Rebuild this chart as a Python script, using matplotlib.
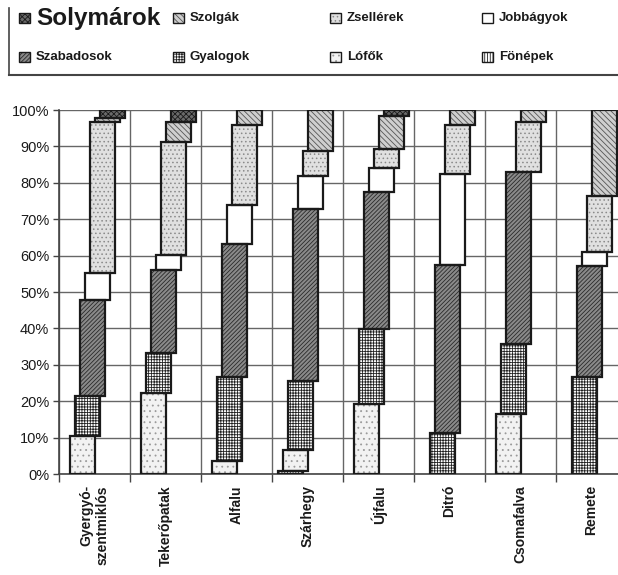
import numpy as np
import matplotlib
matplotlib.use("Agg")
import matplotlib.pyplot as plt
from matplotlib.patches import Rectangle
from matplotlib.lines import Line2D

plt.rcParams["font.family"] = ["Liberation Sans", "DejaVu Sans"]
plt.rcParams["hatch.linewidth"] = 0.6

# settlements (x categories)
categories = ["Gyergyó-\nszentmiklós", "Tekerőpatak", "Alfalu", "Szárhegy",
              "Újfalu", "Ditró", "Csomafalva", "Remete"]

# share of each social group in %, stacked from the bottom
fonepek = [0, 0, 0, 0.8, 0, 0, 0, 0]
lofok = [10.5, 22.3, 3.7, 5.8, 19.2, 0, 16.4, 0]
gyalogok = [10.9, 10.9, 23.0, 18.9, 20.7, 11.2, 19.3, 26.6]
szabadosok = [26.4, 22.8, 36.5, 47.2, 37.7, 46.2, 47.4, 30.6]
jobbagyok = [7.5, 4.2, 10.7, 9.2, 6.6, 25.0, 0, 3.9]
zsellerek = [41.3, 30.9, 22.1, 6.7, 5.0, 13.5, 13.7, 15.3]
szolgak = [1.2, 5.5, 4.0, 11.4, 9.2, 4.1, 3.2, 23.6]
solymarok = [2.2, 3.4, 0, 0, 1.6, 0, 0, 0]

series = [("Fönépek", fonepek), ("Lófők", lofok), ("Gyalogok", gyalogok),
          ("Szabadosok", szabadosok), ("Jobbágyok", jobbagyok),
          ("Zsellérek", zsellerek), ("Szolgák", szolgak),
          ("Solymárok", solymarok)]

# face colour, hatch, hatch colour
styles = {
    "Fönépek": ("#ffffff", "||||||", "#222222"),
    "Lófők": ("#f2f2f2", "...", "#9a9a9a"),
    "Gyalogok": ("#ffffff", "++++++", "#222222"),
    "Szabadosok": ("#8a8a8a", "////////", "#2a2a2a"),
    "Jobbágyok": ("#ffffff", "", "#ffffff"),
    "Zsellérek": ("#e0e0e0", "....", "#8a8a8a"),
    "Szolgák": ("#cfcfcf", "\\\\\\\\\\\\", "#555555"),
    "Solymárok": ("#6a6a6a", "xxxxxx", "#1a1a1a"),
}

W, H = 618, 575
fig = plt.figure(figsize=(W / 100, H / 100), dpi=100)
ax = fig.add_axes([59 / W, (H - 474) / H, 568 / W, 364 / H])

x = np.arange(len(categories))
step = 5 / 71
width = 25 / 71
first = -0.5 + 6 / 71

bottom = np.zeros(len(categories))
for k, (name, vals) in enumerate(series):
    vals = np.array(vals, dtype=float) / 100
    face, hatch, hcol = styles[name]
    keep = vals > 0
    xs = x[keep] + first + k * step
    ax.bar(xs, vals[keep], width, bottom=bottom[keep], align="edge",
           color=face, hatch=hatch, edgecolor=hcol, linewidth=0, zorder=3)
    ax.bar(xs, vals[keep], width, bottom=bottom[keep], align="edge",
           fill=False, edgecolor="#1a1a1a", linewidth=1.6, zorder=4)
    bottom += vals

ax.set_xlim(-0.5, 7.5)
ax.set_ylim(0, 1)
ax.set_yticks(np.arange(0, 1.01, 0.1))
ax.set_yticklabels([f"{v}%" for v in range(0, 101, 10)], fontsize=10.5,
                   color="#1a1a1a")
ax.set_xticks(np.arange(-0.5, 7.5, 1))
ax.set_xticklabels([])
ax.set_xticks(x, minor=True)
ax.set_xticklabels(categories, minor=True, rotation=90, fontsize=10,
                   fontweight="bold", va="top", ha="center",
                   multialignment="right", color="#1a1a1a")
ax.tick_params(axis="x", which="minor", length=0, pad=8)
ax.tick_params(axis="x", which="major", length=6, width=1, color="#444444")
ax.tick_params(axis="y", length=4, width=1, color="#444444", pad=3)

ax.grid(True, which="major", color="#666666", linewidth=1, zorder=0)
ax.set_axisbelow(True)
for s in ["top", "right"]:
    ax.spines[s].set_visible(False)
for s in ["left", "bottom"]:
    ax.spines[s].set_color("#444444")
    ax.spines[s].set_linewidth(1.2)

# legend box (only the left and bottom sides are visible)
def px(xp, yp):
    return xp / W, 1 - yp / H

fig.add_artist(Line2D([9 / W, 9 / W], [1 - 8 / H, 1 - 75 / H],
                      color="#444444", linewidth=1.2))
fig.add_artist(Line2D([9 / W, 1], [1 - 75 / H, 1 - 75 / H],
                      color="#444444", linewidth=1.5))

legend_items = [
    ("Solymárok", 19, 36, 18, 17.5),
    ("Szolgák", 173, 190, 18, 9.5),
    ("Zsellérek", 330, 347, 18, 9.5),
    ("Jobbágyok", 482, 499, 18, 9.5),
    ("Szabadosok", 19, 36, 57, 9.5),
    ("Gyalogok", 173, 190, 57, 9.5),
    ("Lófők", 330, 347, 57, 9.5),
    ("Fönépek", 482, 499, 57, 9.5),
]
for name, bx, tx, yc, fs in legend_items:
    face, hatch, hcol = styles[name]
    x0, y0 = px(bx, yc + 5)
    fig.add_artist(Rectangle((x0, y0), 11 / W, 10 / H, facecolor=face,
                             hatch=hatch, edgecolor=hcol, linewidth=0,
                             transform=fig.transFigure))
    fig.add_artist(Rectangle((x0, y0), 11 / W, 10 / H, fill=False,
                             edgecolor="#1a1a1a", linewidth=1,
                             transform=fig.transFigure))
    tx0, ty0 = px(tx, yc)
    fig.text(tx0, ty0, name, fontsize=fs, fontweight="bold", va="center",
             ha="left", color="#1a1a1a")

fig.savefig("out.png", dpi=100)
